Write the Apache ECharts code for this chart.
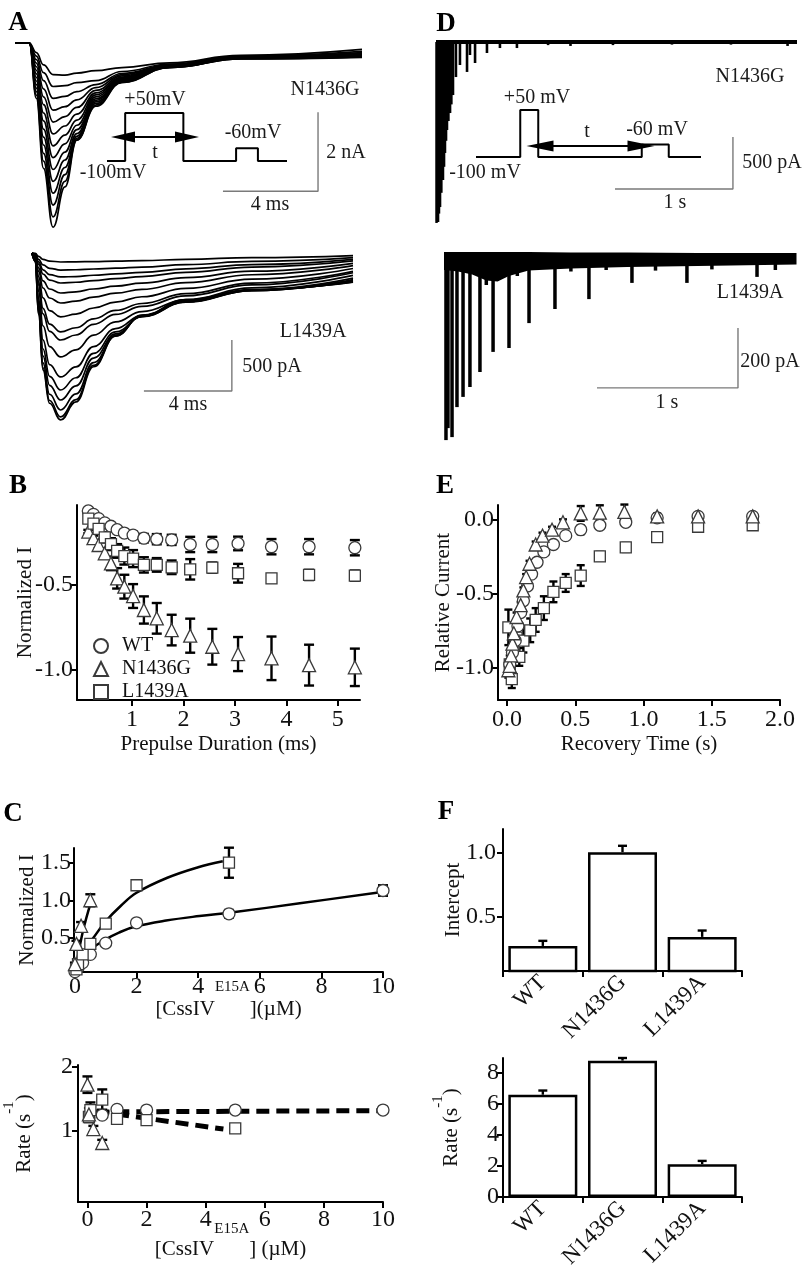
<!DOCTYPE html>
<html><head><meta charset="utf-8">
<script src="https://cdn.jsdelivr.net/npm/echarts@6/dist/echarts.min.js"></script>
<style>html,body{margin:0;padding:0;background:#fff}#c{width:809px;height:1270px}</style>
</head><body><div id="c"></div>
<script>
const FONT = '"Liberation Serif","Times New Roman",Times,serif';

// ---------- Panel A : N1436G traces (ms, nA) ----------
const A1_T = [0, 0.6, 0.9, 1.2, 1.6, 2.1, 2.6, 3.4, 4.5, 6.5, 9.5, 14.6];
const A1_TRACES = [
  [0,0,-0.24,-0.55,-0.80,-0.81,-0.76,-0.70,-0.62,-0.50,-0.31,-0.16],
  [0,0,-0.33,-0.75,-1.10,-1.08,-1.00,-0.95,-0.72,-0.53,-0.33,-0.21],
  [0,0,-0.42,-0.95,-1.40,-1.35,-1.23,-1.05,-0.77,-0.55,-0.35,-0.24],
  [0,0,-0.51,-1.16,-1.70,-1.61,-1.44,-1.13,-0.80,-0.56,-0.35,-0.26],
  [0,0,-0.60,-1.36,-2.00,-1.86,-1.63,-1.20,-0.83,-0.57,-0.36,-0.27],
  [0,0,-0.69,-1.56,-2.30,-2.10,-1.80,-1.26,-0.86,-0.57,-0.37,-0.28],
  [0,0,-0.78,-1.77,-2.60,-2.33,-1.95,-1.31,-0.88,-0.58,-0.37,-0.30],
  [0,0,-0.87,-1.97,-2.90,-2.55,-2.08,-1.36,-0.90,-0.59,-0.38,-0.31],
  [0,0,-0.96,-2.18,-3.20,-2.76,-2.19,-1.41,-0.92,-0.59,-0.38,-0.32],
  [0,0,-1.05,-2.38,-3.50,-2.96,-2.29,-1.45,-0.94,-0.60,-0.38,-0.33],
  [0,0,-1.14,-2.58,-3.80,-3.15,-2.36,-1.49,-0.95,-0.61,-0.39,-0.34],
  [0,0,-1.23,-2.79,-4.10,-3.33,-2.41,-1.53,-0.97,-0.61,-0.39,-0.35],
  [0,0,-1.32,-2.99,-4.40,-3.50,-2.45,-1.57,-0.99,-0.62,-0.40,-0.35],
  [0,0,-1.40,-3.17,-4.66,-3.64,-2.46,-1.60,-1.00,-0.62,-0.40,-0.36]
];
const A1_SCALE = { t: 4, amp: 2, corner: [12.75, -3.75] };

// ---------- Panel A : L1439A traces (ms, pA) ----------
const A2_T = [0, 0.15, 0.3, 0.5, 0.8, 1.3, 2.0, 2.8, 3.8, 5.0, 7.0, 10.0, 14.6];
const A2_TRACES = [
  [0,-4,-33,-62,-79,-88,-87,-84,-80,-75,-62,-45,-25],
  [0,-8,-62,-117,-150,-167,-164,-157,-148,-138,-113,-83,-46],
  [0,-12,-87,-165,-212,-235,-231,-218,-205,-189,-155,-114,-63],
  [0,-15,-109,-206,-265,-294,-287,-270,-251,-231,-189,-138,-78],
  [0,-20,-145,-274,-353,-392,-381,-353,-325,-296,-242,-178,-102],
  [0,-25,-181,-343,-441,-490,-472,-433,-393,-356,-290,-213,-123],
  [0,-31,-232,-439,-564,-627,-599,-539,-481,-429,-347,-256,-152],
  [0,-39,-286,-542,-697,-774,-733,-646,-563,-495,-398,-295,-180],
  [0,-43,-316,-597,-768,-853,-804,-699,-602,-524,-420,-313,-194],
  [0,-51,-377,-713,-917,-1019,-949,-805,-675,-574,-457,-342,-220],
  [0,-61,-450,-851,-1094,-1215,-1117,-917,-741,-611,-479,-363,-247],
  [0,-67,-497,-940,-1209,-1343,-1223,-984,-774,-623,-483,-369,-261],
  [0,-72,-533,-1009,-1297,-1441,-1303,-1030,-793,-625,-480,-369,-271],
  [0,-77,-569,-1077,-1385,-1539,-1382,-1074,-806,-620,-471,-366,-279],
  [0,-80,-595,-1125,-1446,-1607,-1437,-1102,-813,-615,-463,-363,-283],
  [0,-82,-606,-1146,-1473,-1637,-1460,-1115,-815,-610,-458,-360,-285]
];
const A2_SCALE = { t: 4, amp: 500, corner: [9.09, -1353] };

// voltage protocol (schematic time units, mV)
const PROTO_A_T = [0, 1.0, 1.0, 4.2, 4.2, 7.1, 7.1, 8.3, 8.3, 9.9];
const PROTO_A_V = [-100, -100, 50, 50, -100, -100, -60, -60, -100, -100];
const PROTO_A_ARROW = { from: 0.88, to: 4.4, v: -25 };

// ---------- Panel D : recovery traces (s, pA) ----------
const D1_END = 3.06;
const D1_SPIKE_T = [0.004,0.010,0.017,0.025,0.034,0.045,0.059,0.068,0.076,0.085,0.093,0.105,0.119,0.130,0.144,0.169,0.203,0.263,0.288,0.331,0.432,0.542,0.686,0.95,1.14,1.5,2.0,2.5,2.98];
const D1_SPIKE_A = [-1740,-1720,-1731,-1650,-1587,-1450,-1327,-1200,-1067,-950,-846,-760,-683,-600,-510,-337,-221,-288,-125,-202,-106,-58,-58,-30,-38,-30,-25,-25,-38];
const D1_SCALE = { t: 1, amp: 500, corner: [2.517, -1413] };

const D2_END = 2.5;
const D2_SPIKE_T = [0.014,0.028,0.057,0.092,0.135,0.184,0.255,0.300,0.348,0.461,0.52,0.603,0.787,0.9,1.028,1.15,1.333,1.5,1.723,1.9,2.22,2.35];
const D2_SPIKE_A = [-607,-567,-597,-497,-463,-430,-380,-90,-313,-300,-60,-217,-170,-45,-137,-40,-83,-42,-83,-38,-63,-40];
const D2_BAND_T  = [0, 0.1, 0.2, 0.3, 0.38, 0.46, 0.6, 0.9, 1.3, 1.8, 2.5];
const D2_BAND_LO = [-40, -45, -55, -75, -78, -60, -42, -35, -30, -27, -22];
const D2_BAND_HI = [20, 20, 20, 20, 20, 20, 20, 18, 18, 17, 17];
const D2_SCALE = { t: 1, amp: 200, corner: [2.085, -433] };

const PROTO_D_T = [0, 0.59, 0.59, 0.83, 0.83, 2.21, 2.21, 2.57, 2.57, 3.0];
const PROTO_D_V = [-100, -100, 50, 50, -100, -100, -60, -60, -100, -100];
const PROTO_D_ARROW = { from: 0.853, to: 2.2, v: -65 };

// ---------- Panel B : onset (ms, normalized I) ----------
const B_T = [0.15,0.25,0.35,0.47,0.59,0.71,0.85,1.02,1.23,1.48,1.77,2.13,2.56,3.06,3.71,4.44,5.33];
const B_WT   = [-0.065,-0.085,-0.11,-0.135,-0.155,-0.175,-0.195,-0.207,-0.225,-0.231,-0.235,-0.262,-0.262,-0.256,-0.275,-0.275,-0.281];
const B_WT_E = [0.01,0.01,0.01,0.01,0.01,0.015,0.015,0.02,0.025,0.03,0.03,0.045,0.045,0.04,0.045,0.045,0.045];
const B_N    = [-0.186,-0.225,-0.265,-0.314,-0.373,-0.461,-0.51,-0.565,-0.647,-0.696,-0.765,-0.798,-0.863,-0.906,-0.931,-0.971,-0.984];
const B_N_E  = [0.01,0.015,0.02,0.03,0.04,0.06,0.07,0.07,0.08,0.09,0.09,0.1,0.105,0.1,0.128,0.12,0.11];
const B_L    = [-0.11,-0.14,-0.17,-0.22,-0.26,-0.30,-0.33,-0.345,-0.382,-0.382,-0.396,-0.408,-0.398,-0.431,-0.461,-0.441,-0.445];
const B_L_E  = [0.01,0.015,0.02,0.03,0.035,0.04,0.05,0.05,0.045,0.04,0.04,0.06,0.03,0.055,0.025,0.03,0.03];

// ---------- Panel E : recovery (s, relative current) ----------
const E_WT_T = [0.02,0.04,0.06,0.08,0.1,0.12,0.15,0.18,0.22,0.27,0.34,0.43,0.54,0.68,0.87,1.1,1.4,1.8];
const E_WT   = [-0.98,-0.9,-0.82,-0.72,-0.63,-0.55,-0.45,-0.37,-0.29,-0.22,-0.17,-0.11,-0.07,-0.04,-0.02,0.01,0.02,0.02];
const E_WT_E = [0.03,0.03,0.03,0.02,0.02,0.02,0.02,0.02,0.02,0.02,0.02,0.02,0.03,0.02,0.02,0.02,0.02,0.02];
const E_N_T  = [0.01,0.02,0.03,0.04,0.05,0.07,0.1,0.12,0.14,0.165,0.21,0.26,0.33,0.41,0.54,0.68,0.86,1.1,1.4,1.8];
const E_N    = [-1.02,-0.99,-0.92,-0.84,-0.77,-0.66,-0.58,-0.48,-0.39,-0.30,-0.17,-0.11,-0.07,-0.02,0.04,0.045,0.05,0.02,0.02,0.02];
const E_N_E  = [0.05,0.04,0.03,0.03,0.03,0.03,0.02,0.02,0.02,0.02,0.02,0.02,0.02,0.02,0.05,0.05,0.05,0.02,0.02,0.02];
const E_L_T  = [0.01,0.02,0.035,0.05,0.07,0.09,0.12,0.17,0.21,0.27,0.34,0.43,0.54,0.68,0.87,1.1,1.4,1.8];
const E_L    = [-0.73,-0.98,-1.08,-0.9,-0.8,-0.93,-0.82,-0.75,-0.68,-0.60,-0.49,-0.43,-0.38,-0.25,-0.19,-0.12,-0.05,-0.04];
const E_L_E  = [0.12,0.06,0.06,0.06,0.1,0.06,0.08,0.08,0.08,0.08,0.07,0.06,0.07,0.03,0.03,0.02,0.02,0.02];

// ---------- Panel C : toxin dose dependence (µM) ----------
const C1_WT_X = [0, 0.1, 0.25, 0.5, 1, 2, 5, 10];
const C1_WT   = [0.05, 0.1, 0.17, 0.28, 0.43, 0.70, 0.82, 1.13];
const C1_WT_E = [0.01, 0.01, 0.02, 0.03, 0.03, 0.03, 0.05, 0.07];
const C1_N_X  = [0, 0.05, 0.2, 0.5];
const C1_N    = [0.15, 0.42, 0.66, 1.0];
const C1_N_E  = [0.02, 0.04, 0.05, 0.08];
const C1_L_X  = [0.05, 0.1, 0.25, 0.5, 1, 2, 5];
const C1_L    = [0.08, 0.15, 0.28, 0.42, 0.69, 1.20, 1.50];
const C1_L_E  = [0.01, 0.02, 0.03, 0.04, 0.04, 0.04, 0.2];
const C1_FIT_WT_X = [0.04,0.24,0.56,1,1.43,1.96,2.96,4.04,5.13,7.3,9.97];
const C1_FIT_WT   = [0.09,0.22,0.36,0.48,0.57,0.65,0.73,0.79,0.84,0.96,1.11];
const C1_FIT_L_X  = [0.04,0.3,0.6,1,1.5,2,3,4,4.8];
const C1_FIT_L    = [0.07,0.32,0.5,0.72,0.93,1.1,1.3,1.44,1.52];
const C1_FIT_N_X  = [0.02,0.13,0.29,0.5];
const C1_FIT_N    = [0.07,0.33,0.64,0.95];

const C2_WT_X = [0.5, 1, 2, 5, 10];
const C2_WT   = [1.24, 1.33, 1.32, 1.32, 1.32];
const C2_WT_E = [0.03, 0.03, 0.02, 0.02, 0.02];
const C2_N_X  = [0, 0.05, 0.2, 0.5];
const C2_N    = [1.72, 1.25, 1.02, 0.80];
const C2_N_E  = [0.13, 0.1, 0.05, 0.05];
const C2_L_X  = [0.05, 0.1, 0.5, 1, 2, 5];
const C2_L    = [1.21, 1.32, 1.485, 1.18, 1.16, 1.03];
const C2_L_E  = [0.08, 0.12, 0.16, 0.03, 0.03, 0.02];
const C2_FIT_WT_X = [0.3, 9.8];
const C2_FIT_WT   = [1.29, 1.31];
const C2_FIT_L_X  = [0.3, 4.6];
const C2_FIT_L    = [1.30, 1.02];

// ---------- Panel F ----------
const F_CATS = ['WT', 'N1436G', 'L1439A'];
const F_INTERCEPT = [0.271, 1.008, 0.342];
const F_INTERCEPT_E = [0.04, 0.05, 0.05];
const F_RATE = [6.6, 8.8, 2.12];
const F_RATE_E = [0.27, 0.17, 0.21];

// ================= helpers =================
const zip = (xs, ys) => xs.map((x, i) => [x, ys[i]]);
const zipErr = (xs, ys, es) => xs.map((x, i) => [x, ys[i] - es[i], ys[i] + es[i]]);

function traceLine(idx, T, vals, w) {
  return { type: 'line', xAxisIndex: idx, yAxisIndex: idx, data: zip(T, vals), symbol: 'none',
    smooth: 0.45, smoothMonotone: 'x', lineStyle: { color: '#000', width: w }, silent: true, clip: false, z: 2 };
}
function scaleBar(idx, sc) {
  const c = sc.corner;
  return { type: 'line', xAxisIndex: idx, yAxisIndex: idx, symbol: 'none', silent: true, clip: false, z: 1,
    data: [[c[0] - sc.t, c[1]], [c[0], c[1]], [c[0], c[1] + sc.amp]],
    lineStyle: { color: '#7a7a7a', width: 1.4 } };
}
function protoSeries(idx, T, V, ar, arrowSize) {
  return { type: 'line', xAxisIndex: idx, yAxisIndex: idx, data: zip(T, V), symbol: 'none', silent: true, clip: false,
    lineStyle: { color: '#000', width: 2 }, z: 3,
    markLine: { silent: true, animation: false, symbol: ['triangle', 'triangle'], symbolSize: arrowSize,
      label: { show: false }, emphasis: { disabled: true },
      lineStyle: { color: '#000', width: 2, type: 'solid' },
      data: [[{ coord: [ar.from, ar.v] }, { coord: [ar.to, ar.v] }]] } };
}
function errRender(cap, both) {
  return function (params, api) {
    const x = api.value(0), lo = api.value(1), hi = api.value(2);
    const a = api.coord([x, lo]), b = api.coord([x, hi]);
    const st = () => ({ stroke: '#000', lineWidth: 2.4 });
    const ch = [
      { type: 'line', shape: { x1: a[0], y1: a[1], x2: b[0], y2: b[1] }, style: st() },
      { type: 'line', shape: { x1: b[0] - cap, y1: b[1], x2: b[0] + cap, y2: b[1] }, style: st() }
    ];
    if (both) ch.push({ type: 'line', shape: { x1: a[0] - cap, y1: a[1], x2: a[0] + cap, y2: a[1] }, style: st() });
    return { type: 'group', children: ch };
  };
}
const MARK = {
  WT: { symbol: 'circle', size: 12 },
  N1436G: { symbol: 'triangle', size: 13 },
  L1439A: { symbol: 'rect', size: 11 }
};
function scatter(idx, name, data, withName) {
  return { type: 'scatter', name: withName ? name : undefined, xAxisIndex: idx, yAxisIndex: idx, data,
    symbol: MARK[name].symbol, symbolSize: MARK[name].size, clip: false, silent: true, z: 5,
    itemStyle: { color: '#fff', borderColor: '#3a3a3a', borderWidth: 1.3, opacity: 1 } };
}
function errSeries(idx, data, cap, both) {
  return { type: 'custom', xAxisIndex: idx, yAxisIndex: idx, data, renderItem: errRender(cap, both),
    encode: { x: 0, y: [1, 2] }, silent: true, clip: false, z: 4 };
}
function fitLine(idx, xs, ys, dashed) {
  return { type: 'line', xAxisIndex: idx, yAxisIndex: idx, data: zip(xs, ys), symbol: 'none', silent: true,
    smooth: dashed ? false : 0.4, clip: false, z: 3,
    lineStyle: dashed ? { color: '#000', width: 5, type: [13, 7] } : { color: '#000', width: 2.5 } };
}

// ================= axes =================
const axisLine = { show: true, onZero: false, lineStyle: { color: '#000', width: 2 } };
function visAxis(gi, min, max, ticks, fmt, margin, name, nameGap, extra) {
  return Object.assign({
    gridIndex: gi, type: 'value', min, max, axisLine,
    axisTick: { show: true, length: 6, customValues: ticks, lineStyle: { color: '#000', width: 2 } },
    axisLabel: { customValues: ticks, fontFamily: FONT, fontSize: 24, color: '#111', margin, formatter: fmt },
    splitLine: { show: false },
    name, nameLocation: 'middle', nameGap, nameMoveOverlap: false,
    nameTextStyle: { fontFamily: FONT, fontSize: 21, color: '#111' }
  }, extra || {});
}
const f1 = v => v.toFixed(1);
const f0 = v => String(Math.round(v));
const supRich = (lift) => ({
  m: { fontFamily: FONT, fontSize: 21, color: '#111' },
  s: { fontFamily: FONT, fontSize: 15, color: '#111', padding: [0, 0, lift * 2, 0] }
});

const grids = [
  { left: 15, top: 31.2, width: 347, height: 209.4 },      // 0 A1
  { left: 32, top: 242.8, width: 321, height: 188.7 },     // 1 A2
  { left: 107, top: 113, width: 180, height: 48 },         // 2 A protocol
  { left: 436, top: 31.6, width: 361, height: 197.6 },     // 3 D1
  { left: 444, top: 246, width: 352.5, height: 198 },      // 4 D2
  { left: 476, top: 110, width: 225, height: 47 },         // 5 D protocol
  { left: 77, top: 505, width: 283, height: 195 },         // 6 B
  { left: 498, top: 505, width: 282, height: 195 },        // 7 E
  { left: 74, top: 848, width: 309, height: 124 },         // 8 C top
  { left: 78, top: 1065, width: 305, height: 137 },        // 9 C bottom
  { left: 503, top: 829, width: 239, height: 142 },        // 10 F top
  { left: 503, top: 1058, width: 239, height: 139 }        // 11 F bottom
].map(g => Object.assign({ outerBoundsMode: 'none', containLabel: false }, g));

const hidden = (gi, min, max) => ({ gridIndex: gi, type: 'value', min, max, show: false });

const xAxis = [
  hidden(0, 0, 14.6), hidden(1, 0, 14.6), hidden(2, 0, 9.9),
  hidden(3, 0, D1_END), hidden(4, 0, D2_END), hidden(5, 0, 3.0),
  visAxis(6, -0.07, 5.43, [1, 2, 3, 4, 5], f0, 8, 'Prepulse Duration (ms)', 34),
  visAxis(7, -0.066, 2.0, [0, 0.5, 1, 1.5, 2], f1, 8, 'Recovery Time (s)', 34),
  visAxis(8, -0.03, 10, [0, 2, 4, 6, 8, 10], f0, 3, '{m|[CssIV}{s|E15A}{m|](µM)}', 8,
    { nameTextStyle: { fontFamily: FONT, fontSize: 21, color: '#111', rich: supRich(22) } }),
  visAxis(9, -0.32, 10, [0, 2, 4, 6, 8, 10], f0, 6, '{m|[CssIV}{s|E15A}{m|] (µM)}', 20,
    { nameTextStyle: { fontFamily: FONT, fontSize: 21, color: '#111', rich: supRich(20) } }),
  { gridIndex: 10, type: 'category', data: F_CATS, axisLine,
    axisTick: { show: true, length: 6, lineStyle: { color: '#000', width: 2 } },
    axisLabel: { rotate: 45, interval: 0, fontFamily: FONT, fontSize: 23, color: '#111', margin: 8 } },
  { gridIndex: 11, type: 'category', data: F_CATS, axisLine,
    axisTick: { show: true, length: 6, lineStyle: { color: '#000', width: 2 } },
    axisLabel: { rotate: 45, interval: 0, fontFamily: FONT, fontSize: 23, color: '#111', margin: 8 } }
];
const yAxis = [
  hidden(0, -5, 0.3), hidden(1, -1750, 100), hidden(2, -100, 50),
  hidden(3, -1800, 100), hidden(4, -620, 40), hidden(5, -100, 50),
  visAxis(6, -1.176, -0.03, [-1.0, -0.5], f1, 4, 'Normalized I', 41, { nameRotate: 90 }),
  visAxis(7, -1.221, 0.097, [-1.0, -0.5, 0], f1, 4, 'Relative Current', 44, { nameRotate: 90 }),
  visAxis(8, 0.045, 1.696, [0.5, 1.0, 1.5], f1, 3, 'Normalized I', 36, { nameRotate: 90 }),
  visAxis(9, -0.13, 2.03, [1, 2], f0, 5, '{m|Rate (s}{s|-1}{m|)}', 31,
    { nameRotate: 90, nameTextStyle: { fontFamily: FONT, fontSize: 21, color: '#111', rich: supRich(15) } }),
  visAxis(10, 0.074, 1.19, [0.5, 1.0], f1, 7, 'Intercept', 39, { nameRotate: 90 }),
  visAxis(11, 0, 8.97, [0, 2, 4, 6, 8], f0, 4, '{m|Rate (s}{s|-1}{m|)}', 31,
    { nameRotate: 90, nameTextStyle: { fontFamily: FONT, fontSize: 21, color: '#111', rich: supRich(13) } })
];

// ================= series =================
const series = [];
A1_TRACES.forEach(tr => series.push(traceLine(0, A1_T, tr, 1.7)));
series.push(scaleBar(0, A1_SCALE));
A2_TRACES.forEach(tr => series.push(traceLine(1, A2_T, tr, 1.7)));
series.push(scaleBar(1, A2_SCALE));
series.push(protoSeries(2, PROTO_A_T, PROTO_A_V, PROTO_A_ARROW, [11, 24]));

// D1
series.push({ type: 'line', xAxisIndex: 3, yAxisIndex: 3, data: [[0, 0], [D1_END, 0]], symbol: 'none', silent: true,
  lineStyle: { color: '#000', width: 4 }, z: 2 });
series.push({ type: 'bar', xAxisIndex: 3, yAxisIndex: 3, data: zip(D1_SPIKE_T, D1_SPIKE_A), barWidth: 2.6,
  itemStyle: { color: '#000' }, silent: true, z: 2 });
series.push(scaleBar(3, D1_SCALE));
// D2 noisy baseline band (polygon between HI and LO edges)
series.push({ type: 'custom', xAxisIndex: 4, yAxisIndex: 4, data: [[0, 0]], encode: { x: 0, y: 1 },
  silent: true, clip: false, z: 2,
  renderItem: (params, api) => {
    const top = D2_BAND_T.map((t, i) => api.coord([t, D2_BAND_HI[i]]));
    const bot = D2_BAND_T.map((t, i) => api.coord([t, D2_BAND_LO[i]])).reverse();
    return { type: 'polygon', shape: { points: top.concat(bot) }, style: { fill: '#000' } };
  } });
series.push({ type: 'bar', xAxisIndex: 4, yAxisIndex: 4, data: zip(D2_SPIKE_T, D2_SPIKE_A), barWidth: 3.5,
  itemStyle: { color: '#000' }, silent: true, z: 2 });
series.push(scaleBar(4, D2_SCALE));
series.push(protoSeries(5, PROTO_D_T, PROTO_D_V, PROTO_D_ARROW, [11, 27]));

// B
series.push(errSeries(6, zipErr(B_T, B_WT, B_WT_E), 5, true));
series.push(errSeries(6, zipErr(B_T, B_N, B_N_E), 5, true));
series.push(errSeries(6, zipErr(B_T, B_L, B_L_E), 5, true));
series.push(scatter(6, 'WT', zip(B_T, B_WT), true));
series.push(scatter(6, 'N1436G', zip(B_T, B_N), true));
series.push(scatter(6, 'L1439A', zip(B_T, B_L), true));
// E
series.push(errSeries(7, zipErr(E_L_T, E_L, E_L_E), 4, true));
series.push(errSeries(7, zipErr(E_WT_T, E_WT, E_WT_E), 4, true));
series.push(errSeries(7, zipErr(E_N_T, E_N, E_N_E), 4, true));
series.push(scatter(7, 'L1439A', zip(E_L_T, E_L)));
series.push(scatter(7, 'WT', zip(E_WT_T, E_WT)));
series.push(scatter(7, 'N1436G', zip(E_N_T, E_N)));
// C top
series.push(fitLine(8, C1_FIT_WT_X, C1_FIT_WT));
series.push(fitLine(8, C1_FIT_L_X, C1_FIT_L));
series.push(fitLine(8, C1_FIT_N_X, C1_FIT_N));
series.push(errSeries(8, zipErr(C1_WT_X, C1_WT, C1_WT_E), 5, true));
series.push(errSeries(8, zipErr(C1_L_X, C1_L, C1_L_E), 5, true));
series.push(errSeries(8, zipErr(C1_N_X, C1_N, C1_N_E), 5, true));
series.push(scatter(8, 'WT', zip(C1_WT_X, C1_WT)));
series.push(scatter(8, 'L1439A', zip(C1_L_X, C1_L)));
series.push(scatter(8, 'N1436G', zip(C1_N_X, C1_N)));
// C bottom
series.push(fitLine(9, C2_FIT_WT_X, C2_FIT_WT, true));
series.push(fitLine(9, C2_FIT_L_X, C2_FIT_L, true));
series.push(errSeries(9, zipErr(C2_WT_X, C2_WT, C2_WT_E), 5, true));
series.push(errSeries(9, zipErr(C2_L_X, C2_L, C2_L_E), 5, true));
series.push(errSeries(9, zipErr(C2_N_X, C2_N, C2_N_E), 5, true));
series.push(scatter(9, 'WT', zip(C2_WT_X, C2_WT)));
series.push(scatter(9, 'L1439A', zip(C2_L_X, C2_L)));
series.push(scatter(9, 'N1436G', zip(C2_N_X, C2_N)));
// F
series.push({ type: 'bar', xAxisIndex: 10, yAxisIndex: 10, data: F_INTERCEPT, barWidth: 69, silent: true, z: 2,
  itemStyle: { color: '#fff', borderColor: '#000', borderWidth: 2.5 } });
series.push(errSeries(10, F_INTERCEPT.map((v, i) => [i, v, v + F_INTERCEPT_E[i]]), 4.5, false));
series.push({ type: 'bar', xAxisIndex: 11, yAxisIndex: 11, data: F_RATE, barWidth: 69, silent: true, z: 2,
  itemStyle: { color: '#fff', borderColor: '#000', borderWidth: 2.5 } });
series.push(errSeries(11, F_RATE.map((v, i) => [i, v, v + F_RATE_E[i]]), 4.5, false));

// ================= annotations =================
const LABELS = [
  ['+50mV', 155, 100], ['-100mV', 113, 173], ['-60mV', 253, 133], ['t', 155, 153],
  ['N1436G', 325, 90], ['2 nA', 346, 153], ['4 ms', 270, 205],
  ['L1439A', 313, 332], ['500 pA', 272, 367], ['4 ms', 188, 405],
  ['N1436G', 750, 77], ['+50 mV', 537, 98], ['t', 587, 132], ['-60 mV', 657, 130], ['-100 mV', 485, 173],
  ['500 pA', 772, 163], ['1 s', 675, 203],
  ['L1439A', 750, 293], ['200 pA', 770, 362], ['1 s', 667, 403]
];
const PANELS = [['A', 18, 23], ['B', 18, 486], ['C', 13, 814], ['D', 446, 24], ['E', 445, 486], ['F', 446, 812]];
const graphic = [];
LABELS.forEach(([t, x, y]) => graphic.push({ type: 'text', x, y, silent: true,
  style: { text: t, font: '20px ' + FONT, fill: '#1a1a1a', textAlign: 'center', textVerticalAlign: 'middle', align: 'center', verticalAlign: 'middle' } }));
PANELS.forEach(([t, x, y]) => graphic.push({ type: 'text', x, y, silent: true,
  style: { text: t, font: 'bold 27px ' + FONT, fill: '#000', textAlign: 'center', textVerticalAlign: 'middle', align: 'center', verticalAlign: 'middle' } }));

const chart = echarts.init(document.getElementById('c'), null, { renderer: 'canvas' });
chart.setOption({
  animation: false,
  backgroundColor: '#fff',
  textStyle: { fontFamily: FONT },
  legend: {
    data: ['WT', 'N1436G', 'L1439A'], orient: 'vertical', left: 88, top: 631,
    itemWidth: 14, itemHeight: 14, itemGap: 3, selectedMode: false,
    textStyle: { fontFamily: FONT, fontSize: 20, color: '#111', padding: [0, 0, 0, 9] }
  },
  grid: grids, xAxis, yAxis, series, graphic
});
</script></body></html>
